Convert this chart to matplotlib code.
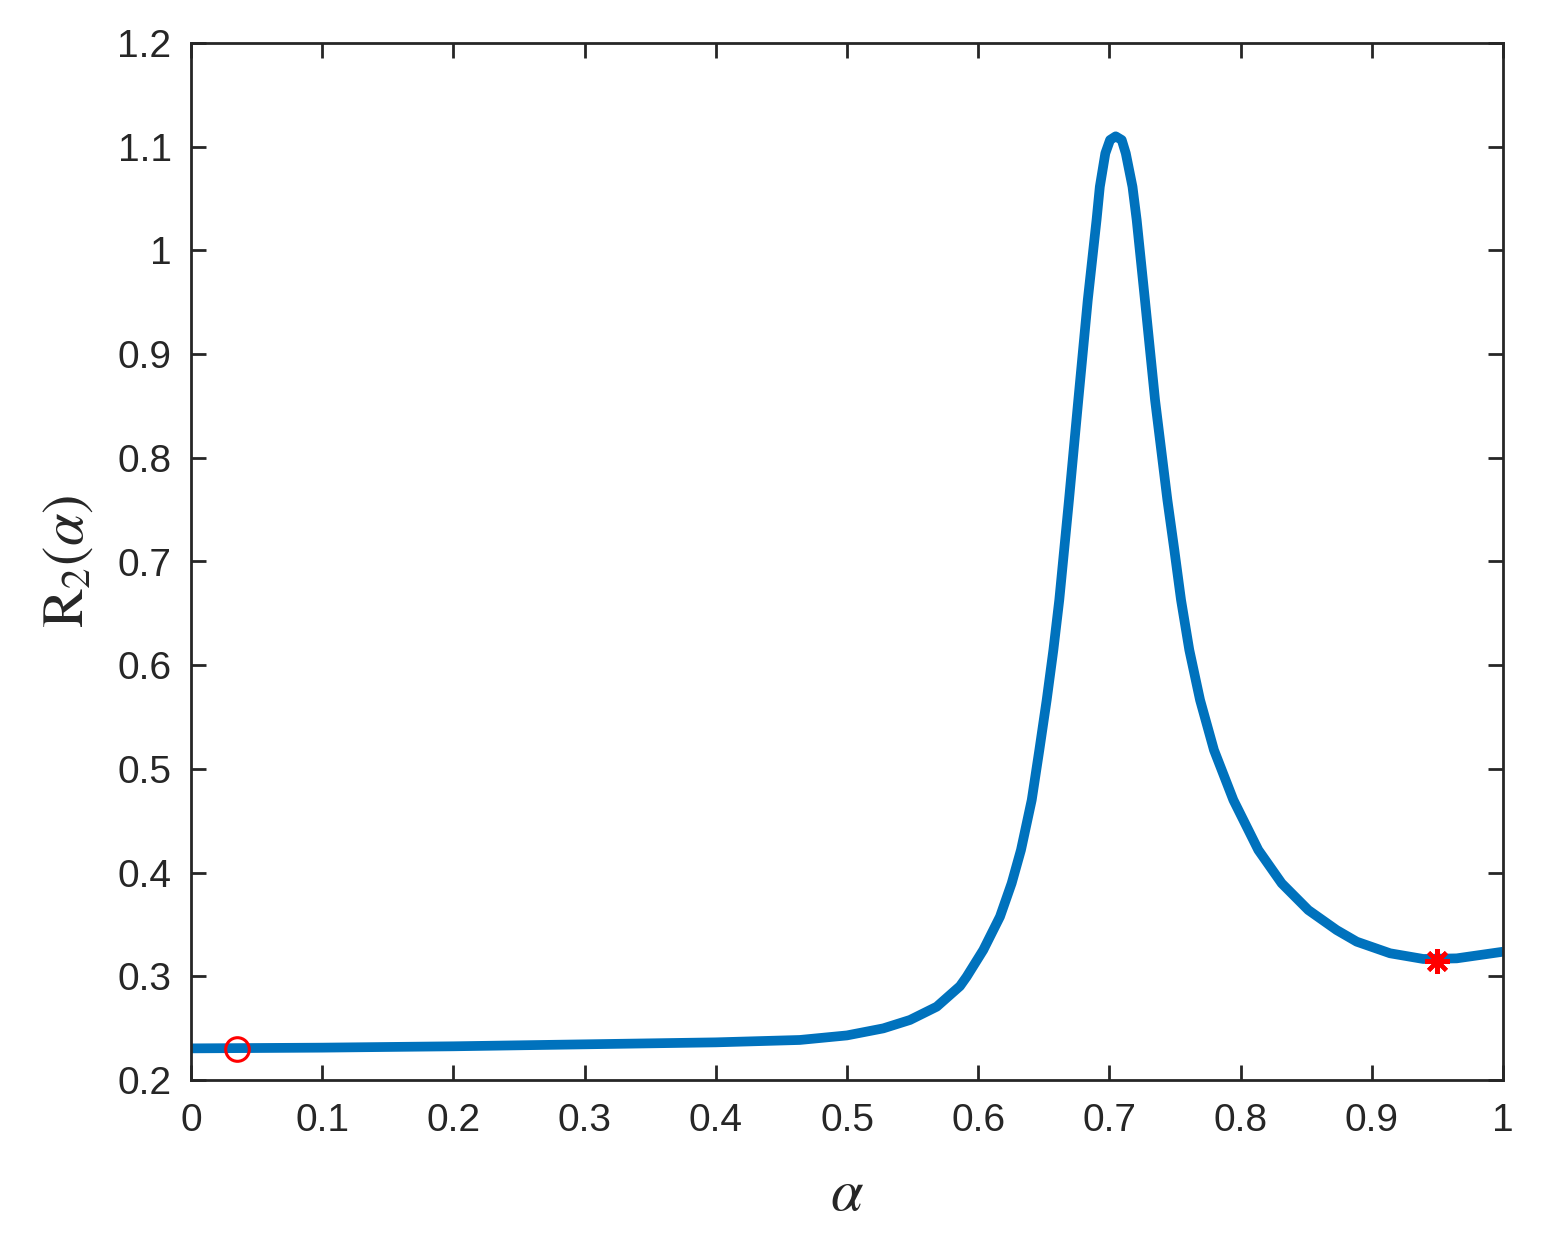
import matplotlib
matplotlib.use('Agg')
import matplotlib.pyplot as plt
import numpy as np

# values
alpha = [0.0, 0.1, 0.2, 0.3, 0.4, 0.464, 0.5, 0.5277, 0.548, 0.5684, 0.5861, 0.5912,
         0.6039, 0.6166, 0.6255, 0.6326, 0.6408, 0.6466, 0.6522, 0.6573, 0.6618,
         0.6655, 0.6692, 0.6763, 0.6835, 0.6902, 0.6927, 0.6969, 0.7005, 0.7048,
         0.7094, 0.7125, 0.7176, 0.7208, 0.7271, 0.7348, 0.7442, 0.7495, 0.7546,
         0.7609, 0.7691, 0.7797, 0.7945, 0.8135, 0.8313, 0.8516, 0.8732, 0.8885,
         0.9139, 0.9393, 0.9647, 1.0]
R2 = [0.2305, 0.2312, 0.2325, 0.2344, 0.2363, 0.2386, 0.2430, 0.2498, 0.2579, 0.2707, 0.2905, 0.2996,
      0.3254, 0.3575, 0.3897, 0.4218, 0.4700, 0.5182, 0.5664, 0.6147, 0.6629,
      0.7111, 0.7593, 0.8557, 0.9520, 1.0293, 1.0614, 1.0936, 1.1065, 1.1100,
      1.1065, 1.0936, 1.0614, 1.0293, 0.9520, 0.8557, 0.7593, 0.7111, 0.6629,
      0.6147, 0.5664, 0.5182, 0.4700, 0.4218, 0.3897, 0.3639, 0.3446, 0.3334,
      0.3222, 0.3167, 0.3173, 0.3237]

circ_x, circ_y = [0.035], [0.2302]
star_x, star_y = [0.9495], [0.3152]

xticks = [0, 0.1, 0.2, 0.3, 0.4, 0.5, 0.6, 0.7, 0.8, 0.9, 1]
xticklabels = ['0', '0.1', '0.2', '0.3', '0.4', '0.5', '0.6', '0.7', '0.8', '0.9', '1']
yticks = [0.2, 0.3, 0.4, 0.5, 0.6, 0.7, 0.8, 0.9, 1.0, 1.1, 1.2]
yticklabels = ['0.2', '0.3', '0.4', '0.5', '0.6', '0.7', '0.8', '0.9', '1', '1.1', '1.2']

plt.rcParams['font.family'] = ['Liberation Sans', 'DejaVu Sans']
plt.rcParams['mathtext.fontset'] = 'stix'

axcol = '#262626'
fig = plt.figure(figsize=(15.66, 12.38), dpi=100)
ax1 = fig.add_axes([191/1566, 1 - 1080/1238, (1503-191)/1566, (1080-43)/1238])

ax1.plot(alpha, R2, color='#0072BD', lw=7, solid_joinstyle='round', solid_capstyle='butt')
ax1.plot(circ_x, circ_y, 'o', color='red', markerfacecolor='none', markersize=17, markeredgewidth=2.2)
ax1.plot(star_x, star_y, marker=(8, 2, 0), color='red', markersize=18, markeredgewidth=3, linestyle='none')

ax1.set_xlim(0, 1)
ax1.set_ylim(0.2, 1.2)
ax1.set_xticks(xticks)
ax1.set_xticklabels(xticklabels)
ax1.set_yticks(yticks)
ax1.set_yticklabels(yticklabels)

fontSize = 28
ax1.tick_params(direction='in', length=11, width=2, colors=axcol, labelsize=fontSize,
                top=True, right=True, pad=14)
ax1.tick_params(axis='x', pad=16.5)
for sp in ax1.spines.values():
    sp.set_linewidth(2)
    sp.set_color(axcol)

ax1.set_xlabel(r'$\alpha$', fontsize=42, color=axcol)
ax1.set_ylabel(r'$\mathrm{R}_2(\alpha)$', fontsize=42, color=axcol)
ax1.xaxis.set_label_coords(0.5, -0.085)
ax1.yaxis.set_label_coords(-0.073, 0.5)

plt.savefig('out.png', dpi=100)
